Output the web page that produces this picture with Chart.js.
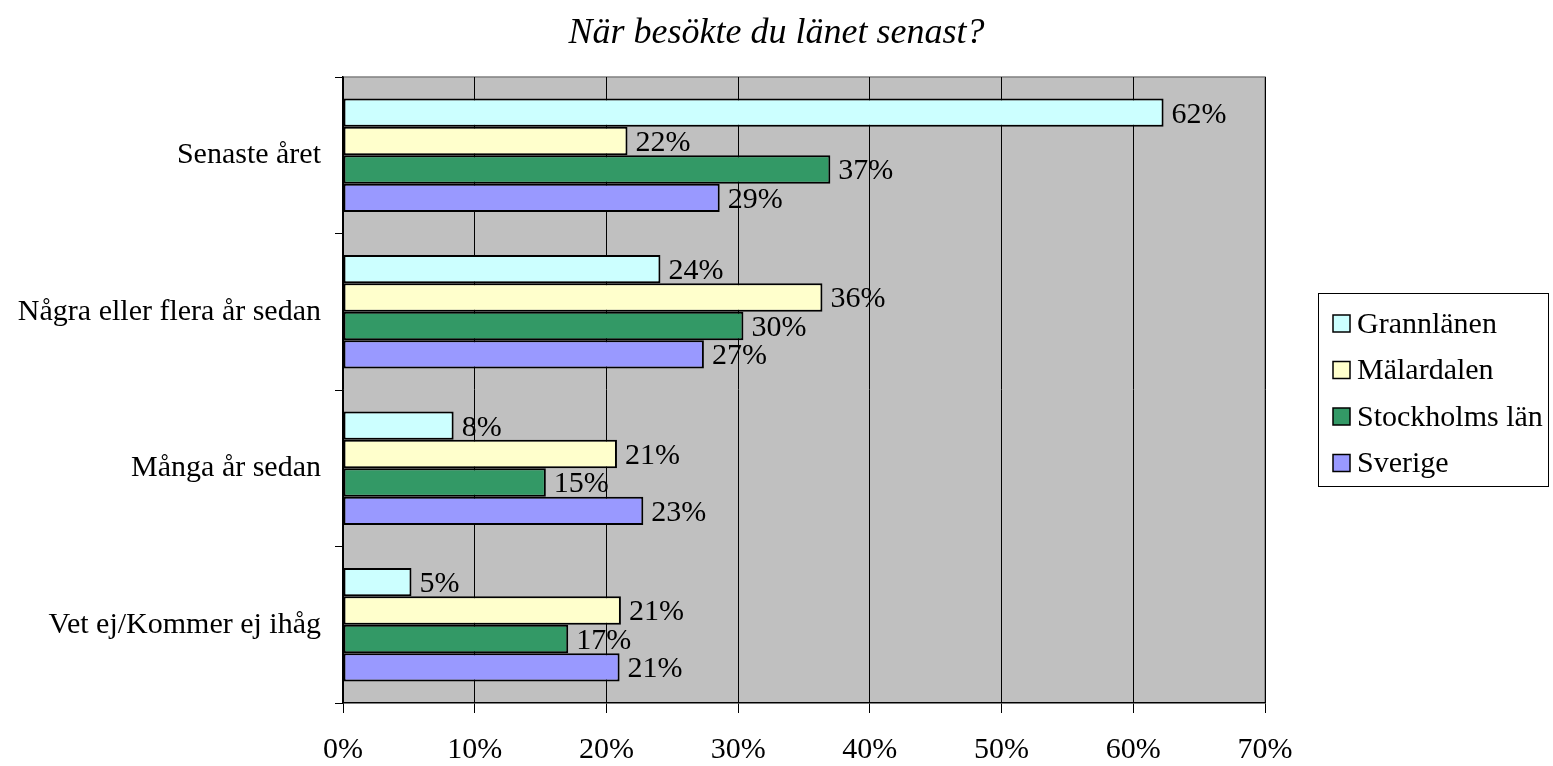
<!DOCTYPE html>
<html><head><meta charset="utf-8">
<script src="https://cdn.jsdelivr.net/npm/chart.js@4/dist/chart.umd.min.js"></script>
<style>html,body{margin:0;padding:0;background:#fff}#wrap{width:1553px;height:766px}</style>
</head><body><div id="wrap"><canvas id="c" width="1553" height="766"></canvas></div>
<script>
const chartTitle = "När besökte du länet senast?";
const categories = ["Senaste året", "Några eller flera år sedan", "Många år sedan", "Vet ej/Kommer ej ihåg"];
const seriesNames = ["Grannlänen", "Mälardalen", "Stockholms län", "Sverige"];
const grannlanen = [62.3, 24.1, 8.4, 5.2];
const malardalen = [21.6, 36.4, 20.8, 21.1];
const stockholm = [37.0, 30.4, 15.4, 17.1];
const sverige = [28.6, 27.4, 22.8, 21.0];
const xTicks = [0, 10, 20, 30, 40, 50, 60, 70];
const colors = ["#CCFFFF", "#FFFFCC", "#339966", "#9999FF"];
const FONT = "'Liberation Serif','Times New Roman',serif";

const bgPlugin = {
  id: 'bg',
  beforeDraw(chart) {
    const {ctx, chartArea: a} = chart;
    ctx.save();
    ctx.fillStyle = '#C0C0C0';
    ctx.fillRect(a.left, a.top, a.right - a.left, a.bottom - a.top);
    ctx.strokeStyle = '#808080';
    ctx.lineWidth = 1.5;
    ctx.beginPath();
    ctx.moveTo(a.left, a.top); ctx.lineTo(a.right, a.top); ctx.lineTo(a.right, a.bottom);
    ctx.stroke();
    ctx.font = "italic 36px " + FONT;
    ctx.fillStyle = '#000';
    ctx.textAlign = 'center';
    ctx.textBaseline = 'middle';
    ctx.fillText(chartTitle, chart.width / 2, 34);
    ctx.restore();
  }
};
const labelPlugin = {
  id: 'vals',
  afterDatasetsDraw(chart) {
    const ctx = chart.ctx;
    ctx.save();
    ctx.font = "30px " + FONT;
    ctx.fillStyle = '#000';
    ctx.textAlign = 'left';
    ctx.textBaseline = 'middle';
    chart.data.datasets.forEach((ds, i) => {
      chart.getDatasetMeta(i).data.forEach((bar, j) => {
        ctx.fillText(Math.round(ds.data[j]) + '%', bar.x + 8, bar.y + 2);
      });
    });
    ctx.restore();
  }
};
const legendPlugin = {
  id: 'boxLegend',
  afterDraw(chart) {
    const ctx = chart.ctx;
    const x0 = 1318, y0 = 293, w = 230, h = 193;
    ctx.save();
    ctx.fillStyle = '#fff';
    ctx.fillRect(x0, y0, w, h);
    ctx.strokeStyle = '#000';
    ctx.lineWidth = 1;
    ctx.strokeRect(x0 + 0.5, y0 + 0.5, w, h);
    ctx.font = "30px " + FONT;
    ctx.textBaseline = 'middle';
    chart.data.datasets.forEach((ds, i) => {
      const cy = 323 + i * 46.5;
      ctx.fillStyle = ds.backgroundColor;
      ctx.fillRect(1333, cy - 8, 17, 17);
      ctx.strokeStyle = '#000';
      ctx.lineWidth = 1.5;
      ctx.strokeRect(1333, cy - 8, 17, 17);
      ctx.fillStyle = '#000';
      ctx.fillText(ds.label, 1357, cy + 2);
    });
    ctx.restore();
  }
};

const datasets = [grannlanen, malardalen, stockholm, sverige].map((d, i) => ({
  label: seriesNames[i],
  data: d,
  backgroundColor: colors[i],
  borderColor: '#000',
  borderWidth: 2,
  borderSkipped: false,
  categoryPercentage: 0.726,
  barPercentage: 1.0
}));

new Chart(document.getElementById('c'), {
  type: 'bar',
  data: { labels: categories, datasets },
  options: {
    indexAxis: 'y',
    responsive: false,
    animation: false,
    layout: { padding: { left: 0, right: 288, top: 77, bottom: 0 } },
    plugins: {
      legend: { display: false },
      tooltip: { enabled: false },
      title: { display: false }
    },
    scales: {
      x: {
        min: 0, max: 70,
        afterBuildTicks(scale) { scale.ticks = xTicks.map(v => ({ value: v })); },
        afterFit(scale) { scale.height = 63; },
        ticks: {
          color: '#000',
          font: { family: FONT, size: 30 },
          padding: 19,
          maxRotation: 0,
          callback: v => v + '%'
        },
        grid: { color: '#000', lineWidth: 1, tickLength: 10, drawOnChartArea: true },
        border: { color: '#000', width: 1.5 }
      },
      y: {
        afterFit(scale) { scale.width = 343; },
        ticks: { color: '#000', font: { family: FONT, size: 30 }, padding: 14 },
        grid: { color: '#000', drawOnChartArea: false, tickLength: 8, offset: true },
        border: { color: '#000', width: 1.5 }
      }
    }
  },
  plugins: [bgPlugin, labelPlugin, legendPlugin]
});
</script>
</body></html>
